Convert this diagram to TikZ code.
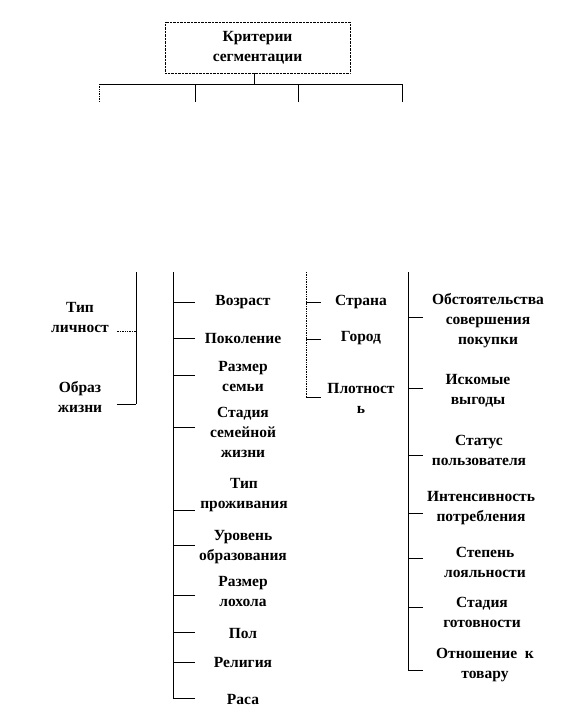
\documentclass[tikz,border=0pt]{standalone}
\usepackage{fontspec}
\setmainfont{Liberation Serif}
\usetikzlibrary{positioning}

\begin{document}
\begin{tikzpicture}[
        x=1pt, y=-1pt,
        lbl/.style={align=center, inner sep=0pt, font=\bfseries\fontsize{15.5}{20}\selectfont},
        head/.style={rectangle, draw=black, densely dotted, minimum width=185pt, minimum height=51pt, align=center, inner sep=0pt, font=\bfseries\fontsize{15.5}{20}\selectfont},
        bar/.style={black, line width=0.7pt},
        tick/.style={black, line width=0.7pt}
    ]
        \useasboundingbox (0,0) rectangle (565,717);

        % head and the branching line
        \node[head] (crit) at (257.5,47.5) {Критерии\\сегментации};
        \coordinate (hl) at (99,84);
        \coordinate (hr) at (402,84);
        \draw[bar] (crit.south -| 254,0) -- (hl -| 254,0);
        \draw[bar] (hl) -- (hr);
        \draw[bar, densely dotted] (hl) -- ++(0,18);
        \foreach \x in {195,298}
            \draw[bar] (hl -| \x,0) -- ++(0,18);
        \draw[bar] (hr) -- ++(0,18);

        % group 1: psychographic
        \node[lbl] (pers) at (80,317) {Тип\\личност};
        \node[lbl] (life) at (80,397) {Образ\\жизни};
        \coordinate (top1) at (136,272);
        \coordinate (bot1) at (136,404);
        \draw[bar] (top1) -- (bot1);
        \draw[tick, densely dotted] (top1 |- 0,331) -- ++(-19,0);
        \draw[tick] (bot1) -- ++(-19,0);

        % group 2: demographic
        \node[lbl] (age)   at (243,302) {Возраст};
        \node[lbl] (gen)   at (243,338) {Поколение};
        \node[lbl] (fam)   at (243,376) {Размер\\семьи};
        \node[lbl] (stage) at (243,432) {Стадия\\семейной\\жизни};
        \node[lbl] (home)  at (244,495) {Тип\\проживания};
        \node[lbl] (edu)   at (243,547) {Уровень\\образования};
        \node[lbl] (inc)   at (243,591) {Размер\\лохола};
        \node[lbl] (sex)   at (243,633) {Пол};
        \node[lbl] (rel)   at (243,662) {Религия};
        \node[lbl] (race)  at (243,699) {Раса};
        \coordinate (top2) at (173,272);
        \coordinate (bot2) at (173,698);
        \draw[bar] (top2) -- (bot2);
        \foreach \y [count=\i] in {302,338,375,427,510,545,595,632,662,698} {
            \coordinate (g2-\i) at (173,\y);
            \draw[tick] (g2-\i) -- ++(22,0);
        }

        % group 3: geographic
        \node[lbl] (land)  at (361,302) {Страна};
        \node[lbl] (city)  at (361,338) {Город};
        \node[lbl] (dens)  at (361,398) {Плотност\\ь};
        \coordinate (top3) at (306,272);
        \coordinate (bot3) at (306,397);
        \draw[bar, densely dotted] (top3) -- (bot3);
        \foreach \y [count=\i] in {302,339,397} {
            \coordinate (g3-\i) at (306,\y);
            \draw[tick] (g3-\i) -- ++(15,0);
        }

        % group 4: behavioural
        \node[lbl] (occ)   at (488,321) {Обстоятельства\\совершения\\покупки};
        \node[lbl] (ben)   at (478,391) {Искомые\\выгоды};
        \node[lbl] (user)  at (479,450) {Статус\\пользователя};
        \node[lbl] (rate)  at (481,508) {Интенсивность\\потребления};
        \node[lbl] (loyal) at (485,562) {Степень\\лояльности};
        \node[lbl] (ready) at (482,612) {Стадия\\готовности};
        \node[lbl] (att)   at (485,665) {Отношение\ \ к\\товару};
        \coordinate (top4) at (408,272);
        \coordinate (bot4) at (408,670);
        \draw[bar] (top4) -- (bot4);
        \foreach \y [count=\i] in {317,388,455,513,558,607,670} {
            \coordinate (g4-\i) at (408,\y);
            \draw[tick] (g4-\i) -- ++(15,0);
        }
    \end{tikzpicture}
\end{document}
